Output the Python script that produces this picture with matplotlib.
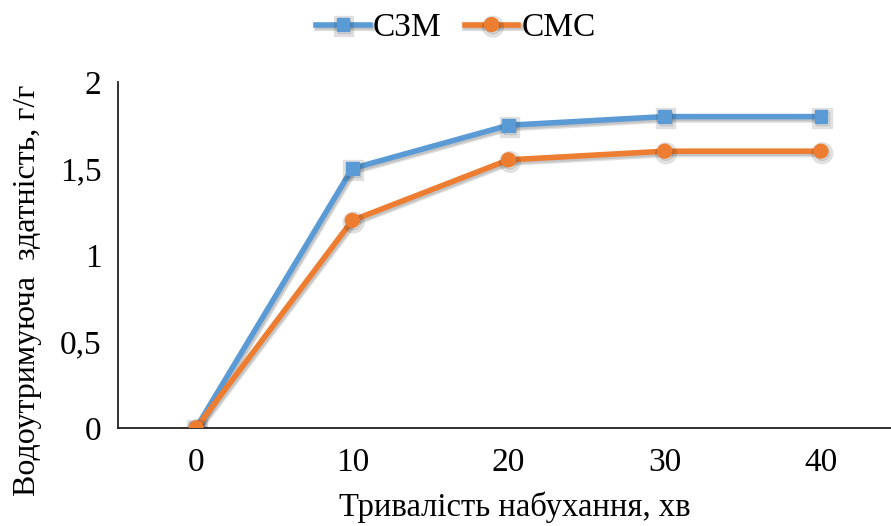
import matplotlib.pyplot as plt
import matplotlib.patheffects as pe
from matplotlib.ticker import FuncFormatter

plt.rcParams['font.family'] = ['Liberation Serif', 'DejaVu Serif']

# тривалість набухання, хв
minutes = ['0', '10', '20', '30', '40']
# водоутримуюча здатність, г/г
szm = [0, 1.5, 1.75, 1.8, 1.8]
smc = [0, 1.2, 1.55, 1.6, 1.6]

blue = '#5B9BD5'
orange = '#ED7D31'

fig = plt.figure(figsize=(8.91, 5.26), dpi=100)
ax = fig.add_axes([118 / 891, 98 / 526, 781 / 891, 346 / 526])

# мʼяка тінь під лініями, як в Excel
shadow = [pe.SimpleLineShadow(offset=(1.0, -1.5), alpha=0.12, shadow_color='black',
                              linewidth=6),
          pe.SimpleLineShadow(offset=(1.0, -1.5), alpha=0.12, shadow_color='black'),
          pe.Normal()]
x = range(len(minutes))
ax.plot(x, szm, color=blue, lw=4.0, marker='s', ms=9, label='СЗМ',
        path_effects=shadow, zorder=3)
ax.plot(x, smc, color=orange, lw=4.0, marker='o', ms=10, label='СМС',
        path_effects=shadow, zorder=4)

ax.set_xlim(-0.5, 4.5)
ax.set_ylim(0, 2)
ax.set_xticks(list(x))
ax.set_xticklabels(minutes)
ax.set_yticks([0, 0.5, 1, 1.5, 2])
ax.yaxis.set_major_formatter(FuncFormatter(lambda v, p: ('%g' % v).replace('.', ',')))
ax.tick_params(length=0, labelsize=24, pad=14)
ax.tick_params(axis='y', pad=12)

for s in ['top', 'right']:
    ax.spines[s].set_visible(False)
for s in ['left', 'bottom']:
    ax.spines[s].set_linewidth(1.3)
    ax.spines[s].set_color('#222222')

fig.text(28 / 891, 1 - 290 / 526, 'Водоутримуюча  здатність, г/г', rotation=90,
         ha='center', va='center', fontsize=23)
fig.text(515 / 891, 1 - 507 / 526, 'Тривалість набухання, хв',
         ha='center', va='center', fontsize=23.5)

fig.legend(loc='center', bbox_to_anchor=(456 / 891, 1 - 28 / 526), ncol=2,
           frameon=False, fontsize=24, handlelength=1.6, handletextpad=0.1,
           columnspacing=0.7, borderaxespad=0)

fig.savefig('out.png', dpi=100)
